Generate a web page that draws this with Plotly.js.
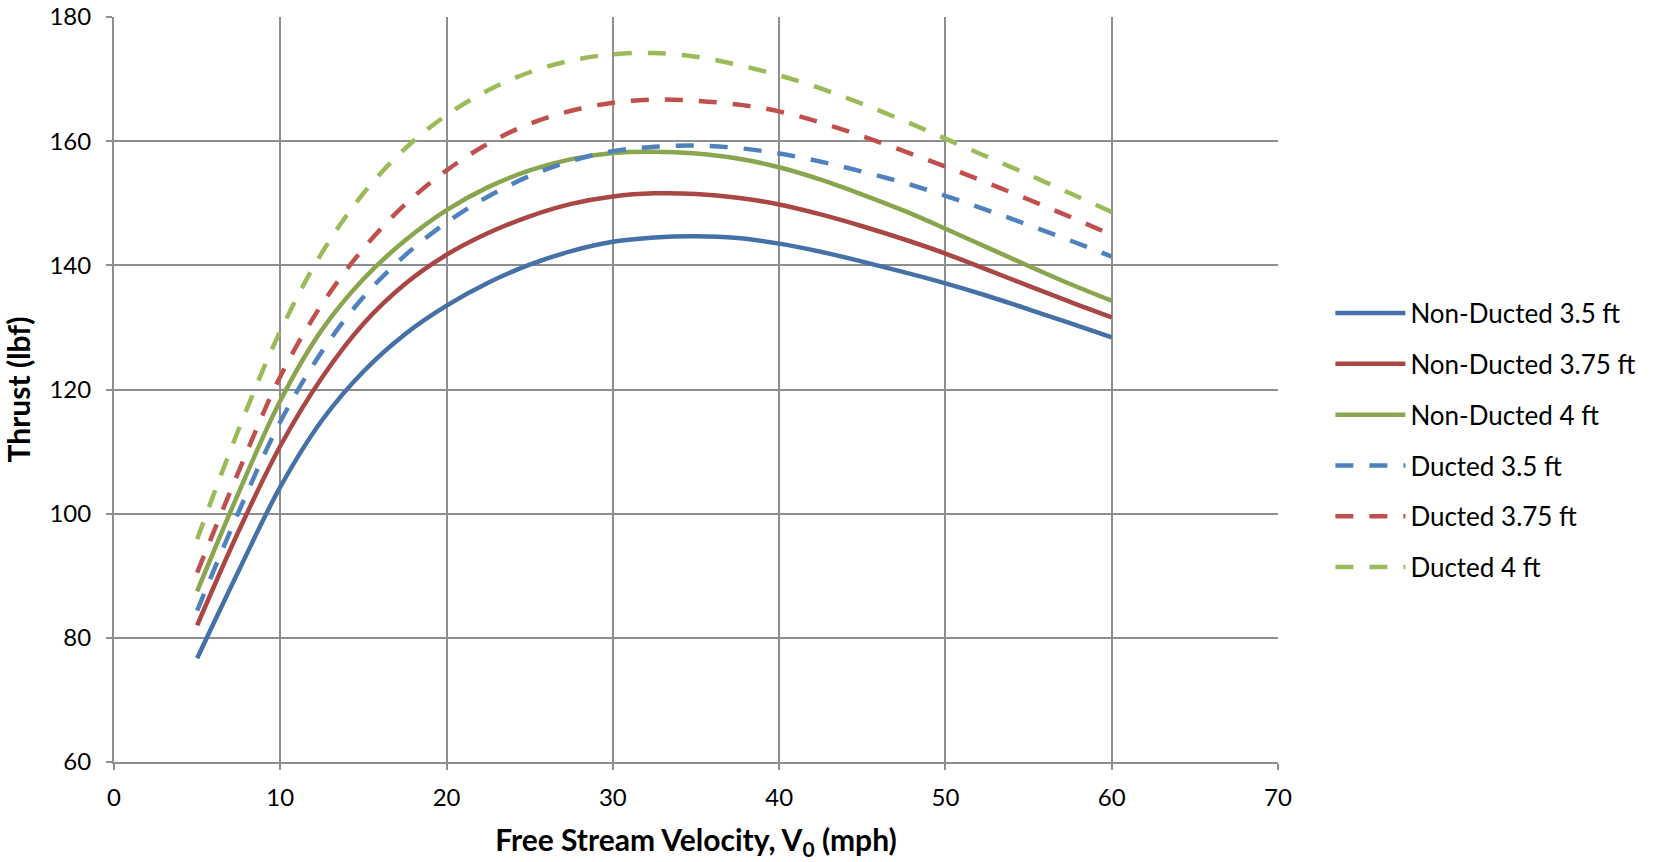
<!DOCTYPE html>
<html>
<head>
<meta charset="utf-8">
<script src="https://cdn.plot.ly/plotly-3.0.1.min.js"></script>
<style>html,body{margin:0;padding:0;background:#fff;}#chart{width:1656px;height:862px;}</style>
</head>
<body>
<div id="chart"></div>
<script>
// Free stream velocity (mph)
const velocity = [5, 7.5, 10, 12.5, 15, 17.5, 20, 22.5, 25, 27.5, 30, 32.5, 35, 37.5, 40, 42.5, 45, 47.5, 50, 52.5, 55, 57.5, 60];

// Thrust (lbf)
const nonDucted35  = [76.7, 90.8, 104.3, 115.0, 122.9, 128.9, 133.5, 137.2, 140.1, 142.3, 143.8, 144.5, 144.7, 144.4, 143.5, 142.2, 140.6, 138.9, 137.1, 135.1, 132.9, 130.7, 128.4];
const nonDucted375 = [82.0, 97.2, 110.9, 121.9, 130.6, 137.0, 141.7, 145.2, 147.9, 149.9, 151.1, 151.6, 151.5, 150.9, 149.8, 148.2, 146.3, 144.2, 141.9, 139.3, 136.7, 134.1, 131.6];
const nonDucted4   = [87.5, 103.4, 118.2, 129.6, 137.8, 144.0, 148.9, 152.6, 155.3, 157.1, 158.1, 158.3, 158.0, 157.2, 155.8, 153.8, 151.4, 148.8, 145.9, 142.9, 139.9, 137.0, 134.3];
const ducted35     = [84.4, 100.3, 114.8, 126.1, 134.9, 141.6, 146.9, 151.1, 154.4, 156.8, 158.4, 159.1, 159.3, 158.9, 158.0, 156.7, 155.1, 153.3, 151.2, 148.9, 146.5, 144.0, 141.4];
const ducted375    = [90.5, 106.8, 122.1, 133.7, 142.7, 149.8, 155.3, 159.6, 162.8, 164.9, 166.2, 166.7, 166.5, 165.9, 164.8, 163.0, 160.8, 158.4, 155.9, 153.3, 150.6, 147.8, 144.9];
const ducted4      = [95.9, 113.6, 129.4, 142.0, 151.6, 158.8, 164.2, 168.2, 171.1, 173.0, 174.0, 174.2, 173.6, 172.3, 170.6, 168.5, 166.0, 163.3, 160.4, 157.5, 154.6, 151.6, 148.6];

const seriesNames = ["Non-Ducted 3.5 ft", "Non-Ducted 3.75 ft", "Non-Ducted 4 ft",
                     "Ducted 3.5 ft", "Ducted 3.75 ft", "Ducted 4 ft"];
const seriesData = [nonDucted35, nonDucted375, nonDucted4, ducted35, ducted375, ducted4];
const seriesColors = ["#4571A8", "#AA4643", "#89A54E", "#4F81BD", "#C0504D", "#9BBB59"];
const seriesDash = ["solid", "solid", "solid", "18px,16px", "18px,16px", "18px,16px"];

const FONT = "Lato, 'Open Sans', sans-serif";

const traces = seriesData.map((ys, i) => ({
  x: velocity,
  y: ys,
  name: seriesNames[i],
  type: "scatter",
  mode: "lines",
  legendgroup: "g" + i,
  line: {color: seriesColors[i], width: 4.5, dash: seriesDash[i], shape: "spline", smoothing: 1}
}));

const gridColor = "#8E8E8E";

const layout = {
  width: 1656,
  height: 862,
  paper_bgcolor: "#ffffff",
  plot_bgcolor: "#ffffff",
  margin: {l: 114, r: 378, t: 17, b: 100},
  font: {family: FONT, color: "#000000", size: 22},
  showlegend: true,
  legend: {
    x: 1.045, xanchor: "left",
    y: 0.432, yanchor: "middle",
    traceorder: "grouped",
    tracegroupgap: 14,
    itemwidth: 70,
    font: {family: FONT, size: 26, color: "#000"},
    bgcolor: "rgba(0,0,0,0)",
    borderwidth: 0
  },
  xaxis: {
    range: [0, 70],
    dtick: 10,
    tick0: 0,
    showgrid: true,
    gridcolor: gridColor,
    gridwidth: 2,
    zeroline: false,
    showline: true,
    linecolor: gridColor,
    linewidth: 2,
    ticks: "outside",
    ticklen: 6,
    tickcolor: gridColor,
    tickwidth: 2,
    ticklabelstandoff: 7,
    tickfont: {family: FONT, size: 24, color: "#000"},
    title: {
      text: "<b>Free Stream Velocity, V<sub>0</sub> (mph)</b>",
      font: {family: FONT, size: 30, color: "#000"},
      standoff: 20
    }
  },
  yaxis: {
    range: [60, 180],
    dtick: 20,
    tick0: 60,
    showgrid: true,
    gridcolor: gridColor,
    gridwidth: 2,
    zeroline: false,
    showline: true,
    linecolor: gridColor,
    linewidth: 2,
    ticks: "outside",
    ticklen: 6,
    tickcolor: gridColor,
    tickwidth: 2,
    ticklabelstandoff: 10,
    tickfont: {family: FONT, size: 24, color: "#000"},
    title: {
      text: "<b>Thrust (lbf)</b>",
      font: {family: FONT, size: 30, color: "#000"},
      standoff: 11
    }
  }
};

Plotly.newPlot("chart", traces, layout, {displayModeBar: false, staticPlot: true});
</script>
</body>
</html>
